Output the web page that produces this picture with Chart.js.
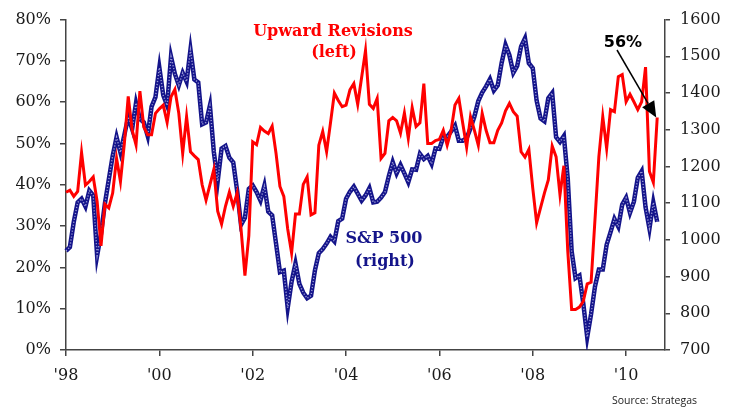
<!DOCTYPE html>
<html>
<head>
<meta charset="utf-8">
<script src="https://cdn.jsdelivr.net/npm/chart.js@4.4.0/dist/chart.umd.min.js"></script>
<style>
    html, body { margin: 0; padding: 0; background: #fff; }
    #wrap { position: relative; width: 735px; height: 407px; }
</style>
</head>
<body>
<div id="wrap"><canvas id="chart_revisions"></canvas></div>
<script>
// month labels, Dec 1997 .. Oct 2010
var firstYear = 1997;
var firstMonth = 11;
var monthCount = 155;

var yearTickLabels = ["'98", "'00", "'02", "'04", "'06", "'08", "'10"];

// share of estimate revisions that are upward (%), left axis
var upwardRevisions = [
    38.2, 38.7, 37.2, 38.4, 47.8, 39.9, 40.8, 41.9, 36, 25.2, 35.3, 34.4,
    38, 46.4, 40.8, 50, 61.4, 53.3, 49.7, 62.7, 54, 52.1, 52.1, 57.3,
    58.4, 59.3, 55.1, 61.3, 63.1, 57.3, 47.6, 56.5, 48, 47, 46.1, 40,
    36.3, 40, 43.7, 33.6, 30.5, 34.8, 38.2, 34.8, 38, 29.3, 18, 27.6,
    50.4, 49.7, 53.9, 53, 52.4, 54.2, 47.6, 39.6, 37.2, 29.3, 23.5, 32.9,
    32.9, 40.1, 41.9, 32.7, 33.2, 49.6, 52.9, 48, 55, 62.2, 60.4, 58.9,
    59.3, 63, 64.5, 59.5, 66, 72.5, 59.5, 58.5, 60.9, 46.4, 47.6, 55.5,
    56.3, 55.5, 52.5, 57.4, 51.3, 58.7, 54.1, 55, 64.5, 50, 50, 50.7,
    51, 53.2, 49.6, 53.1, 59.3, 60.9, 54.9, 49.1, 56.5, 53.2, 49.6, 57.3,
    53.2, 50.2, 50.2, 53.2, 55, 57.9, 59.7, 57.7, 56.6, 48, 46.7, 48.6,
    39.2, 30.8, 34.4, 38, 41.2, 49.4, 46.8, 37.6, 44.6, 24, 9.8, 9.8,
    10.4, 11.8, 16, 16.4, 31.6, 46.8, 56.5, 48.8, 58.2, 57.7, 66.2, 66.7,
    60.1, 61.9, 60.1, 58.2, 60.1, 68.5, 43.2, 40.6, 56.3
];

// S&P 500 month end, right axis
var sp500 = [
    970,
    980, 1049, 1102, 1112, 1091, 1134, 1121, 957, 1017, 1099, 1164, 1229,
    1280, 1238, 1286, 1335, 1302, 1373, 1329, 1320, 1283, 1363, 1389, 1469,
    1394, 1366, 1499, 1452, 1421, 1455, 1431, 1518, 1437, 1429, 1315, 1320,
    1366, 1240, 1160, 1249, 1256, 1224, 1211, 1134, 1041, 1060, 1139, 1148,
    1130, 1107, 1147, 1077, 1067, 990, 912, 916, 815, 886, 936, 880,
    856, 841, 848, 917, 964, 975, 990, 1008, 996, 1051, 1058, 1112,
    1131, 1145, 1126, 1107, 1121, 1141, 1102, 1104, 1115, 1130, 1174, 1212,
    1181, 1204, 1181, 1157, 1192, 1191, 1234, 1220, 1229, 1207, 1249, 1248,
    1280, 1281, 1295, 1311, 1270, 1270, 1277, 1304, 1336, 1378, 1401, 1418,
    1438, 1407, 1421, 1482, 1531, 1503, 1455, 1474, 1527, 1549, 1481, 1468,
    1379, 1331, 1323, 1386, 1400, 1280, 1267, 1283, 1166, 969, 896, 903,
    826, 735, 798, 873, 919, 919, 987, 1021, 1057, 1036, 1096, 1115,
    1074, 1104, 1169, 1187, 1089, 1031, 1102, 1049
];

var monthLabels = [];
for (var i = 0; i < monthCount; i++) {
    var m = firstMonth + i;
    monthLabels.push((firstYear + Math.floor(m / 12)) + '-' + ((m % 12) + 1));
}

var AXIS_COLOR = '#444';
var TEXT_COLOR = '#1a1a1a';
var SERIF = '"DejaVu Serif", "Liberation Serif", serif';

var calloutPlugin = {
    id: 'callouts',
    afterDatasetsDraw: function (chart) {
        var ctx = chart.ctx;
        ctx.save();
        ctx.textAlign = 'center';
        ctx.textBaseline = 'alphabetic';

        ctx.fillStyle = '#ff0000';
        ctx.font = 'bold 16px ' + SERIF;
        ctx.fillText('Upward Revisions', 333, 36);
        ctx.fillText('(left)', 334, 57);

        ctx.fillStyle = '#14148a';
        ctx.fillText('S&P 500', 384, 243);
        ctx.fillText('(right)', 385, 266);

        ctx.fillStyle = '#000';
        ctx.font = 'bold 16px "DejaVu Sans", Verdana, sans-serif';
        ctx.fillText('56%', 623, 47);

        // arrow to the last reading
        var last = upwardRevisions.length - 1;
        var tipX = chart.scales.x.getPixelForValue(last) - 1;
        var tipY = chart.scales.y.getPixelForValue(upwardRevisions[last]);
        var fromX = 617, fromY = 50;
        var dx = tipX - fromX, dy = tipY - fromY;
        var len = Math.sqrt(dx * dx + dy * dy);
        var ux = dx / len, uy = dy / len;
        var headLen = 16, headHalf = 7;
        var bx = tipX - ux * headLen, by = tipY - uy * headLen;

        ctx.strokeStyle = '#000';
        ctx.lineWidth = 1.5;
        ctx.beginPath();
        ctx.moveTo(fromX, fromY);
        ctx.lineTo(bx, by);
        ctx.stroke();

        ctx.beginPath();
        ctx.moveTo(tipX, tipY);
        ctx.lineTo(bx - uy * headHalf, by + ux * headHalf);
        ctx.lineTo(bx + uy * headHalf, by - ux * headHalf);
        ctx.closePath();
        ctx.fill();

        ctx.fillStyle = '#222';
        ctx.font = '10.5px "Open Sans", "Noto Sans", sans-serif';
        ctx.textAlign = 'right';
        ctx.fillText('Source: Strategas', 697, 404);
        ctx.restore();
    }
};

var ctx = document.getElementById('chart_revisions');
var revisionsChart = new Chart(ctx, {
    type: 'line',
    data: {
        labels: monthLabels,
        datasets: [
            {
                label: 'Upward Revisions',
                data: upwardRevisions,
                yAxisID: 'y',
                borderColor: '#ff0000',
                borderWidth: 3,
                pointRadius: 0,
                tension: 0,
                fill: false
            },
            {
                // light dotted core on top of the navy line
                label: 'S&P 500 dots',
                data: sp500,
                yAxisID: 'y1',
                borderColor: '#9a9ad6',
                borderWidth: 1.4,
                borderDash: [1.2, 1.8],
                pointRadius: 0,
                tension: 0,
                fill: false
            },
            {
                label: 'S&P 500',
                data: sp500,
                yAxisID: 'y1',
                borderColor: '#14148a',
                borderWidth: 4.5,
                pointRadius: 0,
                tension: 0,
                fill: false
            }
        ]
    },
    options: {
        responsive: true,
        maintainAspectRatio: false,
        animation: false,
        layout: { padding: { top: 17, left: 0, right: 0, bottom: 0 } },
        plugins: {
            legend: { display: false },
            tooltip: { enabled: false },
            title: { display: false }
        },
        scales: {
            x: {
                type: 'category',
                offset: false,
                afterFit: function (s) { s.height = 57; },
                border: { display: true, color: AXIS_COLOR, width: 1.5 },
                grid: { drawOnChartArea: false, drawTicks: true, tickLength: 6, color: AXIS_COLOR, lineWidth: 1.5 },
                ticks: {
                    autoSkip: false,
                    maxRotation: 0,
                    padding: 10,
                    color: TEXT_COLOR,
                    font: { family: SERIF, size: 16 },
                    callback: function (value, index) {
                        if (index % 24 !== 0) return null;
                        return yearTickLabels[index / 24];
                    }
                }
            },
            y: {
                position: 'left',
                min: 0,
                max: 80,
                afterFit: function (s) { s.width = 66; },
                border: { display: true, color: AXIS_COLOR, width: 1.5 },
                grid: { drawOnChartArea: false, drawTicks: true, tickLength: 6, color: AXIS_COLOR, lineWidth: 1.5 },
                ticks: {
                    stepSize: 10,
                    padding: 9,
                    color: TEXT_COLOR,
                    font: { family: SERIF, size: 16 },
                    callback: function (v) { return v + '%'; }
                }
            },
            y1: {
                position: 'right',
                min: 700,
                max: 1600,
                afterFit: function (s) { s.width = 70; },
                border: { display: true, color: AXIS_COLOR, width: 1.5 },
                grid: { drawOnChartArea: false, drawTicks: true, tickLength: 5, color: AXIS_COLOR, lineWidth: 1.5 },
                ticks: {
                    stepSize: 100,
                    padding: 10,
                    color: TEXT_COLOR,
                    font: { family: SERIF, size: 16 },
                    callback: function (v) { return String(v); }
                }
            }
        }
    },
    plugins: [calloutPlugin]
});
</script>
</body>
</html>
